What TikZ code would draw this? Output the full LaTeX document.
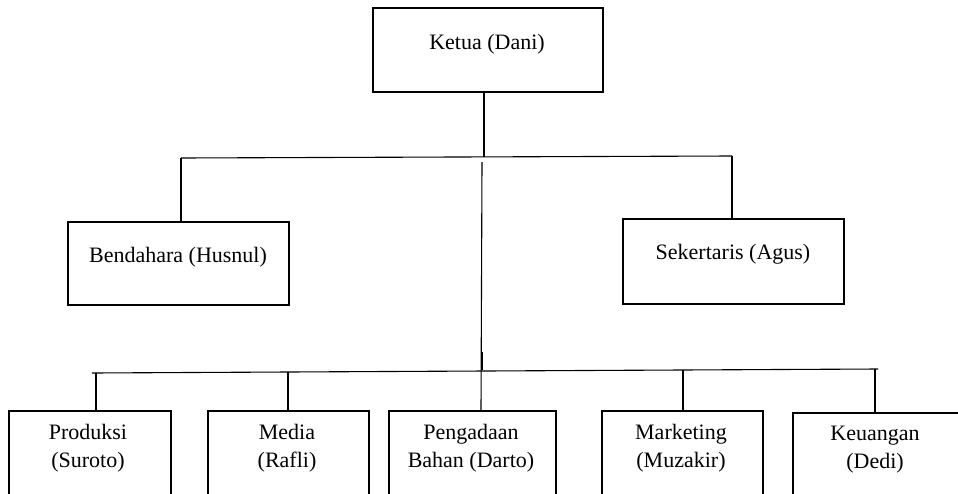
\documentclass[tikz,border=0pt]{standalone}
\usepackage{fontspec}
\setmainfont{Liberation Serif}
\begin{document}
\begin{tikzpicture}[x=1pt,y=-1pt,
  box/.style={draw=black,line width=1.7pt,rectangle,inner sep=0pt,anchor=north west},
  lbl/.style={font=\fontsize{22}{28}\selectfont,align=center,inner sep=0pt,text=black},
  conn/.style={draw=black,line width=1.1pt}]
\useasboundingbox (0,0) rectangle (958,493);
\clip (0,0) rectangle (958,493);
\fill[white] (0,0) rectangle (958,493);
% boxes
\node[box,minimum width=230pt,minimum height=84pt] (ketua) at (372,7) {};
\node[box,minimum width=221pt,minimum height=83pt] (bend) at (67,221) {};
\node[box,minimum width=221pt,minimum height=85pt] (sek) at (622,218) {};
\node[box,minimum width=162pt,minimum height=100pt] (prod) at (8,410) {};
\node[box,minimum width=161pt,minimum height=100pt] (media) at (207,410) {};
\node[box,minimum width=167pt,minimum height=100pt] (peng) at (388,410) {};
\node[box,minimum width=161pt,minimum height=100pt] (mark) at (601,410) {};
\node[box,minimum width=180pt,minimum height=100pt] (keu) at (792,412) {};
% labels
\node[lbl] (ketuaT) at (487,44) {Ketua (Dani)};
\node[lbl] (bendT) at (178,257) {Bendahara (Husnul)};
\node[lbl] (sekT) at (733,254) {Sekertaris (Agus)};
\node[lbl] (prodT) at (88,448) {Produksi\\(Suroto)};
\node[lbl] (mediaT) at (287,448) {Media\\(Rafli)};
\node[lbl] (pengT) at (471,448) {Pengadaan\\Bahan (Darto)};
\node[lbl] (markT) at (681,448) {Marketing\\(Muzakir)};
\node[lbl] (keuT) at (875,450) {Keuangan\\(Dedi)};
% junctions
\coordinate (kb) at (484,91);
\coordinate (j1) at (484,157);
\coordinate (hl) at (181,158);
\coordinate (hr) at (732,156);
\coordinate (c1) at (482,162);
\coordinate (t1) at (482,352);
\coordinate (t2) at (482,370);
\coordinate (bl) at (92,373);
\coordinate (br) at (878,369);
\coordinate (pd) at (96,372.8);
\coordinate (md) at (288,372);
\coordinate (mk) at (683,370);
\coordinate (kd) at (875,369);
% connectors
\draw[conn] (kb) -- (j1);
\draw[conn] (hl) -- (hr);
\draw[conn] (hl) -- (hl |- bend.north);
\draw[conn] (hr) -- (hr |- sek.north);
\draw[conn] (c1) -- (481,410);
\draw[line width=2.2pt] (t1) -- (t2);
\draw[conn] (bl) -- (br);
\draw[conn] (pd) -- (pd |- prod.north);
\draw[conn] (md) -- (md |- media.north);
\draw[conn] (mk) -- (mk |- mark.north);
\draw[conn] (kd) -- (kd |- keu.north);
\end{tikzpicture}
\end{document}
